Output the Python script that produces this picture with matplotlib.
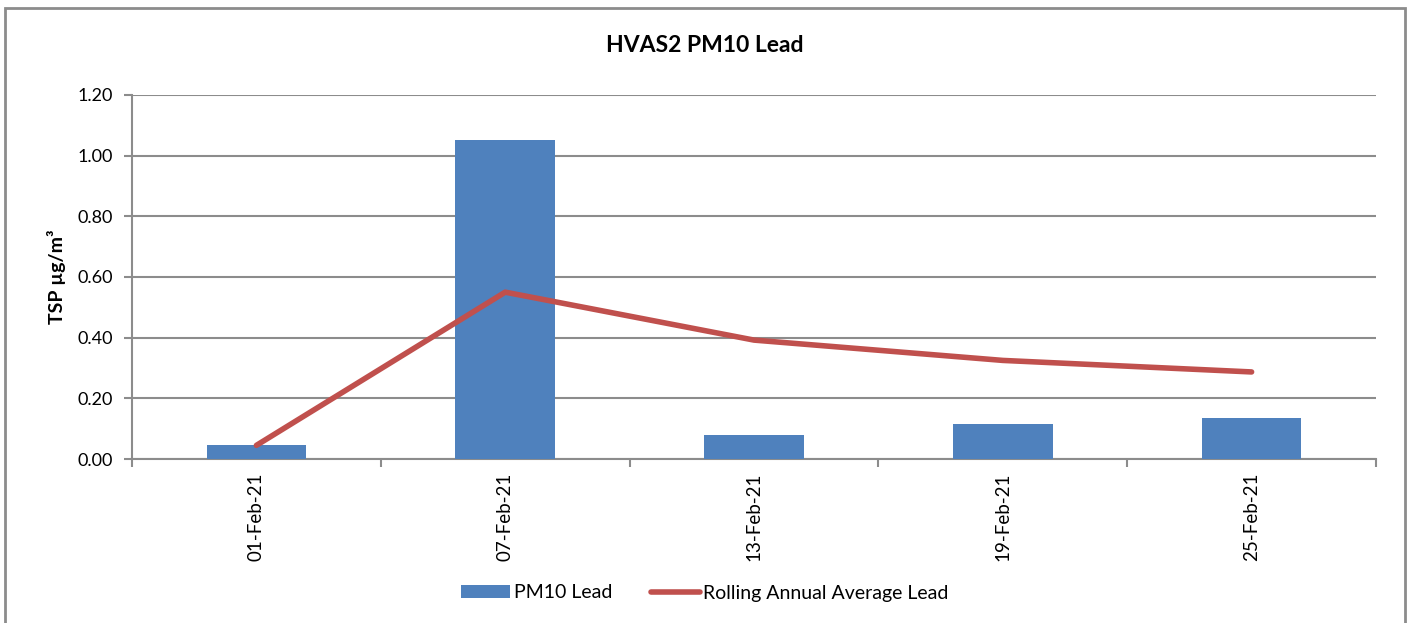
import numpy as np
import matplotlib
matplotlib.use("Agg")
import matplotlib.pyplot as plt
from matplotlib.patches import Rectangle

# data
dates = ["01-Feb-21", "07-Feb-21", "13-Feb-21", "19-Feb-21", "25-Feb-21"]
pm10_lead = [0.045, 1.05, 0.08, 0.115, 0.135]
rolling_avg = [0.045, 0.55, 0.392, 0.325, 0.287]
yticks = [0.0, 0.2, 0.4, 0.6, 0.8, 1.0, 1.2]

plt.rcParams['font.family'] = ['Lato', 'DejaVu Sans']

fig = plt.figure(figsize=(14.1, 6.23), dpi=100)
ax = fig.add_axes([132 / 1410, 1 - 459 / 623, (1376 - 132) / 1410, (459 - 95) / 623])

grid_col = "#8c8c8c"
x = np.arange(len(dates))
bars = ax.bar(x, pm10_lead, width=0.4, color="#4f81bd", label="PM10 Lead", zorder=3)
line, = ax.plot(x, rolling_avg, color="#c0504d", lw=4, solid_capstyle="round",
                label="Rolling Annual Average Lead", zorder=4)

ax.set_xlim(-0.5, len(dates) - 0.5)
ax.set_ylim(0, 1.2)
ax.set_yticks(yticks, labels=["%.2f" % v for v in yticks])
ax.set_xticks(x, labels=dates, rotation=90)
ax.set_xticks(np.arange(len(dates) + 1) - 0.5, minor=True)
ax.tick_params(axis="x", which="major", length=0, pad=10, labelsize=13.5)
ax.tick_params(axis="x", which="minor", length=6, width=1.5, color=grid_col)
ax.tick_params(axis="y", length=6, width=1.5, color=grid_col, labelsize=13, pad=8)
ax.yaxis.grid(True, color=grid_col, lw=1.5, zorder=0)
for s in ["top", "right"]:
    ax.spines[s].set_visible(False)
for s in ["left", "bottom"]:
    ax.spines[s].set_color(grid_col)
    ax.spines[s].set_linewidth(1.5)

ax.set_ylabel("TSP µg/m³", fontsize=14, fontweight="bold", labelpad=8)
fig.text(0.5, 1 - 45 / 623, "HVAS2 PM10 Lead", ha="center", va="center",
         fontsize=16.5, fontweight="bold")

fig.legend([bars, line], ["PM10 Lead", "Rolling Annual Average Lead"],
           loc="center", bbox_to_anchor=(0.5, 1 - 593 / 623), ncol=2,
           frameon=False, fontsize=14, handlelength=2.5, handleheight=0.6,
           columnspacing=2.0, handletextpad=0.2)

# outer chart border
fig.patches.append(Rectangle((5 / 1410, -0.01), 1400 / 1410, 1 - 8 / 623 + 0.01,
                             transform=fig.transFigure, fill=False,
                             edgecolor=grid_col, lw=2))

plt.savefig("out.png", dpi=100)
